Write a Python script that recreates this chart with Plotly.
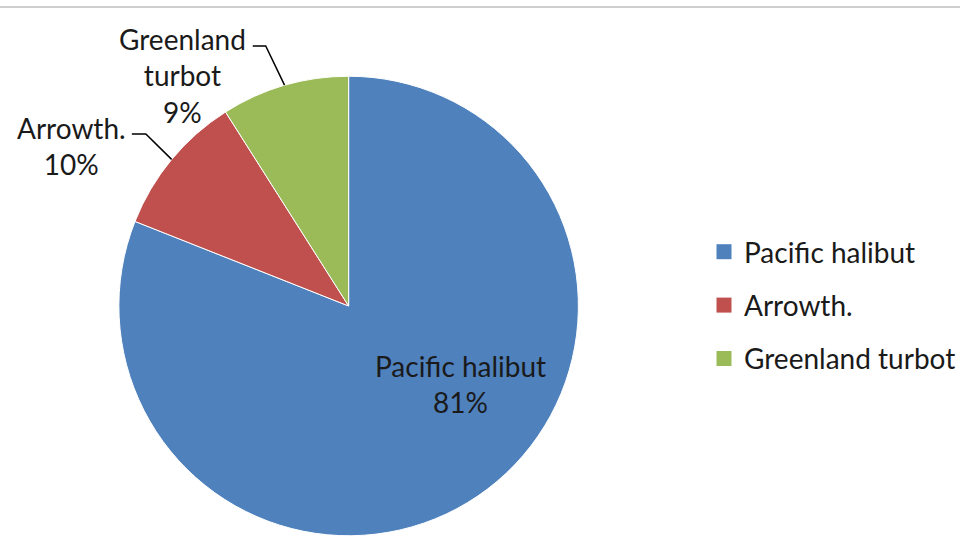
import math
import plotly.graph_objects as go

labels = ["Pacific halibut", "Arrowth.", "Greenland turbot"]
values = [81, 10, 9]
colors = ["#4F81BD", "#C0504D", "#9BBB59"]

W, H = 961, 536
CX, CY, R = 349, 306, 230
FONT = "Lato"
FS = 28

fig = go.Figure()
fig.add_trace(go.Pie(
    labels=labels, values=values, sort=False, direction="clockwise", rotation=0,
    marker=dict(colors=colors, line=dict(color="white", width=1)),
    textinfo="none", hoverinfo="label+percent", showlegend=False,
    domain=dict(x=[(CX - R) / W, (CX + R) / W], y=[(H - CY - R) / H, (H - CY + R) / H]),
))

for lab, col in zip(labels, colors):
    fig.add_trace(go.Scatter(x=[None], y=[None], mode="markers", name=lab,
                             legendgroup=lab,
                             marker=dict(symbol="square", size=15, color=col)))

total = sum(values)
pct = [round(v / total * 100) for v in values]

def px(x, y):
    return x / W, 1 - y / H

anchors = []
cum = 0
for v in values:
    th = 2 * math.pi * (cum + v / 2) / total
    anchors.append((CX + R * math.sin(th), CY - R * math.cos(th)))
    cum += v

annotations = []
def add_label(text, cx, cy):
    x, y = px(cx, cy)
    annotations.append(dict(x=x, y=y, xref="paper", yref="paper", showarrow=False,
                            xanchor="center", yanchor="middle", text=text,
                            font=dict(family=FONT, size=FS, color="#1a1a1a")))

add_label(f"{labels[0]}<br>{pct[0]}%", 461, 384)
add_label(f"{labels[1]}<br>{pct[1]}%", 72, 146)
add_label(f"Greenland<br>turbot<br>{pct[2]}%", 183, 76)

shapes = [dict(type="line", xref="paper", yref="paper", x0=0, x1=1, y0=1 - 7 / H, y1=1 - 7 / H,
               line=dict(color="#BFBFBF", width=1.5))]

def path(pts):
    s = ""
    for i, (a, b) in enumerate(pts):
        xx, yy = px(a, b)
        s += ("M" if i == 0 else "L") + f"{xx},{yy} "
    return s

ax, ay = anchors[1]
shapes.append(dict(type="path", xref="paper", yref="paper", path=path([(132, 134), (146, 134), (ax, ay)]),
                   line=dict(color="black", width=1.5)))
ax, ay = anchors[2]
shapes.append(dict(type="path", xref="paper", yref="paper", path=path([(253, 46), (266, 46), (ax, ay)]),
                   line=dict(color="black", width=1.5)))

fig.update_layout(
    width=W, height=H, margin=dict(l=0, r=0, t=0, b=0),
    paper_bgcolor="white", plot_bgcolor="white",
    xaxis=dict(visible=False), yaxis=dict(visible=False),
    annotations=annotations, shapes=shapes,
    legend=dict(x=705 / W, y=1 - 227 / H, xanchor="left", yanchor="top",
                font=dict(family=FONT, size=FS, color="#1a1a1a"), tracegroupgap=14,
                bgcolor="rgba(0,0,0,0)"),
)
fig.write_html("out.html")
